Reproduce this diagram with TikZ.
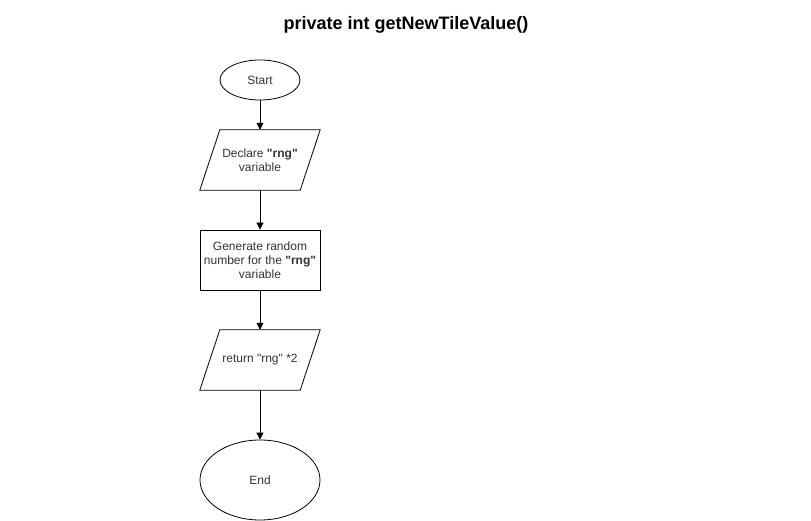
\documentclass[tikz,border=0pt]{standalone}
\usepackage{fontspec}
\setmainfont{Liberation Sans}[Ligatures=TeXReset]
\usetikzlibrary{shapes.geometric,arrows.meta}
\begin{document}
\begin{tikzpicture}[x=1pt,y=-1pt,
  every node/.style={font=\fontsize{12}{14}\selectfont, align=center, text=black!80},
  box/.style={draw, line width=0.8pt, minimum width=120pt, minimum height=60pt, inner sep=0pt},
  term/.style={draw, line width=0.8pt, ellipse, inner sep=0pt},
  io/.style={minimum width=120pt, minimum height=60pt, inner sep=0pt},
  pgram/.style={draw, line width=0.8pt},
  flow/.style={draw, line width=0.8pt, -{Triangle[length=7pt,width=7pt]}}
]
\useasboundingbox (0,0) rectangle (811,521);
\node[font=\fontsize{18}{20}\selectfont\bfseries, text=black] (title) at (406,25) {private int getNewTileValue()};
\node[term, minimum width=80pt, minimum height=40pt] (start) at (260,80) {Start};
\node[io] (decl) at (260,160) {Declare \textbf{"rng"}\\variable};
\draw[pgram] ([xshift=20pt]decl.north west) -- (decl.north east) -- ([xshift=-20pt]decl.south east) -- (decl.south west) -- cycle;
\node[box] (gen) at (260,260) {Generate random\\number for the \textbf{"rng"}\\variable};
\node[io] (ret) at (260,360) {return "rng" *2};
\draw[pgram] ([xshift=20pt]ret.north west) -- (ret.north east) -- ([xshift=-20pt]ret.south east) -- (ret.south west) -- cycle;
\node[term, minimum width=120pt, minimum height=80pt] (end) at (260,480) {End};
\draw[flow] (start) -- (decl);
\draw[flow] (decl) -- (gen);
\draw[flow] (gen) -- (ret);
\draw[flow] (ret) -- (end);
\end{tikzpicture}
\end{document}
